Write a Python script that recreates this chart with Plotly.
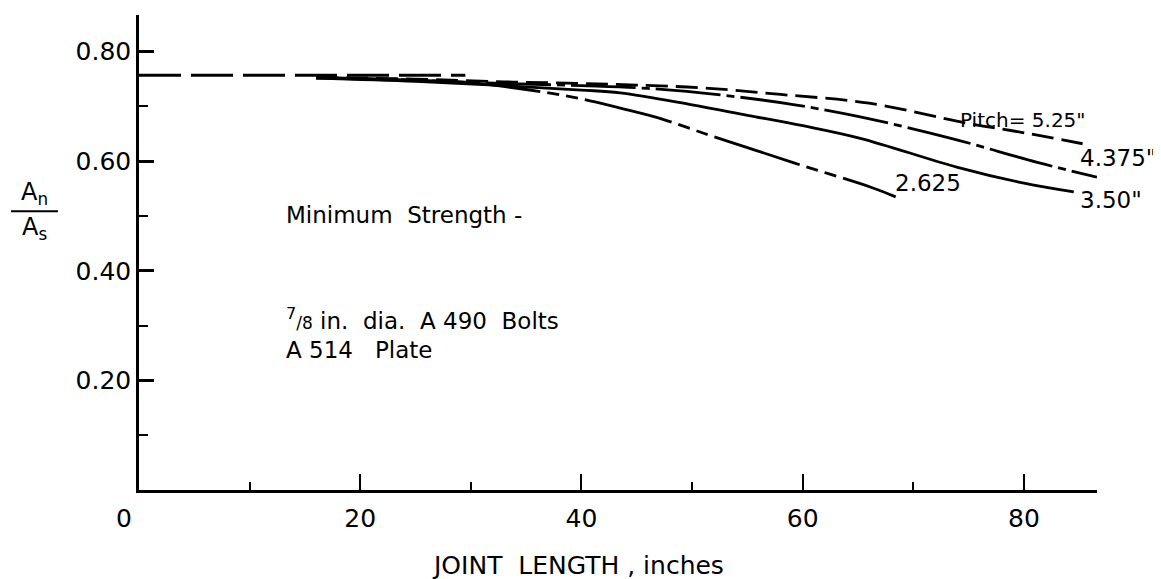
import plotly.graph_objects as go

# ---- data ----
base_x = [0, 29.5]
base_y = [0.757, 0.757]

p525_x = [16, 25, 33, 40, 45, 51, 58, 66, 75, 80, 85.3]
p525_y = [0.753, 0.750, 0.745, 0.742, 0.739, 0.734, 0.722, 0.706, 0.669, 0.652, 0.632]

p4375_x = [16, 25, 33, 40, 46, 52.6, 59, 65.2, 73.4, 81.2, 86.6]
p4375_y = [0.753, 0.748, 0.742, 0.738, 0.733, 0.721, 0.704, 0.681, 0.642, 0.598, 0.571]

p350_x = [16, 25, 33, 40, 43.5, 50, 55, 60, 65.2, 74, 80, 84.5]
p350_y = [0.752, 0.746, 0.738, 0.730, 0.725, 0.703, 0.684, 0.665, 0.642, 0.589, 0.560, 0.544]

p2625_x = [16, 25, 30, 35, 40, 43.5, 47.3, 51.5, 55, 59.2, 66.1, 68.4]
p2625_y = [0.752, 0.748, 0.743, 0.731, 0.714, 0.697, 0.677, 0.648, 0.625, 0.597, 0.553, 0.535]

x_ticks = [0, 20, 40, 60, 80]
x_tick_text = ["", "20", "40", "60", "80"]
x_minor = [10, 30, 50, 70]
y_ticks = [0.2, 0.4, 0.6, 0.8]
y_tick_text = ["0.20", "0.40", "0.60", "0.80"]
y_minor = [0.1, 0.3, 0.5, 0.7]

FONT = "DejaVu Sans"
LW = 2.8

fig = go.Figure()
fig.add_trace(go.Scatter(x=base_x, y=base_y, mode="lines",
                         line=dict(color="black", width=LW, dash="42px,10px")))
fig.add_trace(go.Scatter(x=p525_x, y=p525_y, mode="lines", line_shape="spline",
                         line=dict(color="black", width=LW, dash="22px,8px")))
fig.add_trace(go.Scatter(x=p4375_x, y=p4375_y, mode="lines", line_shape="spline",
                         line=dict(color="black", width=LW, dash="65px,6px,8px,6px")))
fig.add_trace(go.Scatter(x=p350_x, y=p350_y, mode="lines", line_shape="spline",
                         line=dict(color="black", width=LW)))
fig.add_trace(go.Scatter(x=p2625_x, y=p2625_y, mode="lines", line_shape="spline",
                         line=dict(color="black", width=LW, dash="90px,7px,12px,7px,12px,7px")))

def txt(x, y, s, size=23, xanchor="left"):
    fig.add_annotation(x=x, y=y, text=s, showarrow=False, xanchor=xanchor, yanchor="middle",
                       font=dict(family=FONT, size=size, color="black"))

txt(13.1, 0.502, "Minimum  Strength -")
txt(13.1, 0.313, "<sup>7</sup><span style='font-size:17px'>/8</span> in.  dia.  A 490  Bolts")
txt(13.1, 0.255, "A 514   Plate")
txt(74.0, 0.675, "Pitch= 5.25\"", size=20)
txt(84.9, 0.606, "4.375\"", size=23)
txt(84.9, 0.529, "3.50\"", size=23)
txt(68.2, 0.560, "2.625", size=23)

# "0" label of x axis sits left of the origin in the reference
fig.add_annotation(xref="paper", yref="paper", x=0, y=-0.059, text="0", showarrow=False,
                   xanchor="center", yanchor="middle", xshift=-15,
                   font=dict(family=FONT, size=25, color="black"))

# y-axis label as a fraction
fig.add_annotation(xref="paper", yref="paper", x=-0.1086, y=0.587, text="A<sub>n</sub>",
                   showarrow=False, yanchor="bottom", xanchor="center",
                   font=dict(family=FONT, size=24, color="black"))
fig.add_annotation(xref="paper", yref="paper", x=-0.1086, y=0.587, text="A<sub>s</sub>",
                   showarrow=False, yanchor="top", xanchor="center",
                   font=dict(family=FONT, size=24, color="black"))
fig.add_shape(type="line", xref="paper", yref="paper", x0=-0.1336, x1=-0.0846, y0=0.587, y1=0.587,
              line=dict(color="black", width=2))

fig.add_annotation(xref="paper", yref="paper", x=0.458, y=-0.158, text="JOINT  LENGTH , inches",
                   showarrow=False, xanchor="center", yanchor="middle",
                   font=dict(family=FONT, size=25, color="black"))

fig.update_layout(
    width=1153, height=571,
    margin=dict(l=131, r=64, t=7, b=89),
    paper_bgcolor="white", plot_bgcolor="white",
    showlegend=False,
    xaxis=dict(range=[0, 86.6], tickvals=x_ticks, ticktext=x_tick_text, ticks="inside",
               ticklen=16, tickwidth=2, ticklabelstandoff=4,
               tickcolor="black", showline=True, linecolor="black", linewidth=2.5,
               showgrid=False, zeroline=False,
               tickfont=dict(family=FONT, size=25, color="black"),
               minor=dict(tickvals=x_minor, ticks="inside", ticklen=8, tickwidth=2,
                          tickcolor="black", showgrid=False)),
    yaxis=dict(range=[0, 0.867], tickvals=y_ticks, ticktext=y_tick_text, ticks="inside",
               ticklen=15, tickwidth=2.5, tickcolor="black", showline=True, linecolor="black",
               linewidth=2.5, showgrid=False, zeroline=False,
               tickfont=dict(family=FONT, size=25, color="black"),
               minor=dict(tickvals=y_minor, ticks="inside", ticklen=9, tickwidth=2,
                          tickcolor="black", showgrid=False)),
)

fig.write_html("out.html")
